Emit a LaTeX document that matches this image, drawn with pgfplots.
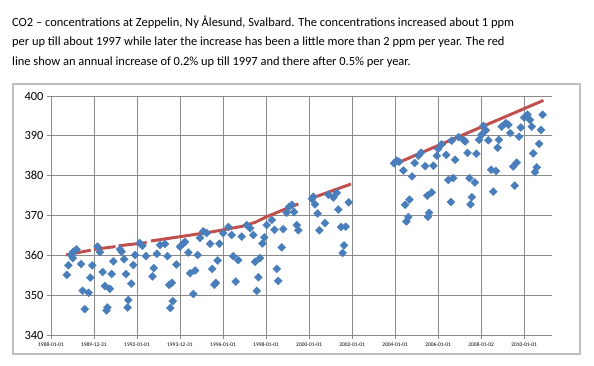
\documentclass[border=0pt]{standalone}
\usepackage{pgfplots}
\pgfplotsset{compat=1.18}
\usepackage{fontspec}
\setmainfont{Carlito}
\definecolor{blueA}{HTML}{4A7EBB}
\definecolor{redA}{HTML}{C0504D}
\definecolor{gridC}{HTML}{8A8A8A}
\definecolor{frameC}{HTML}{BEBEBE}
\begin{document}
\begin{tikzpicture}[x=1bp,y=1bp]
\path[use as bounding box] (0,0) rectangle (594,-365);
\begin{scope}[every node/.style={anchor=base west, inner sep=0pt, font=\fontsize{12.5}{15}\selectfont}]
\node at (12,-26) {CO2 – concentrations at Zeppelin, Ny Ålesund, Svalbard. The concentrations increased about 1 ppm};
\node at (12,-45.5) {per up till about 1997 while later the increase has been a little more than 2 ppm per year. The red};
\node at (12,-65) {line show an annual increase of 0.2\% up till 1997 and there after 0.5\% per year.};
\end{scope}
\draw[frameC, line width=1.5bp] (13,-84) rectangle (580,-354);
\begin{axis}[
  at={(51bp,-335bp)}, anchor=south west,
  scale only axis, width=501bp, height=239bp,
  xmin=1988, xmax=2011.3, ymin=340, ymax=400,
  ytick={340,350,...,400},
  xtick={1988,1989.997,1992,1993.997,1996,1998,2000,2002,2004,2006,2008.003,2010},
  xticklabels={1988-01-01,1989-12-31,1992-01-01,1993-12-31,1996-01-01,1998-01-01,2000-01-01,2002-01-01,2004-01-01,2006-01-01,2008-01-02,2010-01-01},
  grid=major,
  major grid style={draw=gridC, line width=0.7bp},
  axis x line*=bottom, axis y line*=left,
  axis line style={draw=gridC, line width=0.7bp, -},
  tick style={draw=gridC, line width=0.7bp},
  tick align=outside, major tick length=4bp,
  yticklabel style={font=\fontsize{12.5}{13}\selectfont},
  xticklabel style={font=\fontsize{5.5}{6}\selectfont},
  /pgf/number format/assume math mode=true,
  /pgf/number format/1000 sep={},
]
\addplot[only marks, mark=square*, mark size=2.8bp, mark options={rotate=45, fill=blueA, draw=blueA}] coordinates {
(1988.73,355.1)(1988.81,357.5)(1988.93,360.1)(1989.01,359.3)(1989.04,360.9)(1989.19,361.5)
(1989.40,357.8)(1989.47,351.1)(1989.57,346.5)(1989.75,350.6)(1989.83,354.4)(1989.92,357.5)
(1990.16,362.2)(1990.28,360.8)(1990.40,355.8)(1990.51,352.3)(1990.62,346.9)(1990.58,346.2)
(1990.74,351.6)(1990.82,355.3)(1990.90,358.5)(1991.21,361.5)(1991.29,360.9)(1991.40,359.0)
(1991.49,355.3)(1991.60,348.8)(1991.56,346.9)(1991.73,352.9)(1991.83,357.6)(1991.91,360.1)
(1992.12,363.1)(1992.25,362.4)(1992.42,359.8)(1992.72,354.7)(1992.78,356.8)(1992.92,360.4)
(1993.07,362.6)(1993.30,362.9)(1993.42,359.8)(1993.50,352.6)(1993.62,353.1)(1993.66,348.5)
(1993.55,346.8)(1993.83,357.7)
(1994.00,362.2)(1994.15,363.0)(1994.23,363.4)(1994.39,360.7)(1994.47,355.5)(1994.70,356.2)
(1994.62,350.3)(1994.82,360.1)(1994.93,364.4)(1995.08,366.0)(1995.24,365.6)(1995.40,362.9)
(1995.50,356.6)(1995.60,352.6)(1995.66,353.1)(1995.75,358.7)(1995.83,362.9)(1996.01,365.6)
(1996.25,367.1)(1996.40,365.1)(1996.48,359.8)(1996.71,358.8)(1996.59,353.4)(1996.87,364.7)
(1997.10,367.6)(1997.26,366.8)(1997.41,365.1)(1997.49,358.4)(1997.72,359.3)(1997.64,354.5)
(1997.57,351.1)(1997.83,363.0)(1997.92,364.5)(1998.03,367.6)(1998.27,368.9)(1998.39,366.4)
(1998.50,356.6)(1998.57,353.6)(1998.73,362.0)(1998.80,366.6)(1998.96,370.7)(1999.20,372.7)
(1999.43,367.6)(1999.50,366.3)(1999.30,370.9)(1999.07,372.2)
(2000.13,374.2)(2000.20,374.7)(2000.28,372.8)(2000.40,370.5)(2000.48,366.3)(2000.74,368.1)
(2000.90,375.2)(2001.13,374.5)(2001.29,375.7)(2001.36,371.5)(2001.49,367.1)(2001.71,367.2)
(2001.63,362.5)(2001.56,360.6)(2001.85,373.3)
(2003.95,383.1)(2004.08,383.8)(2004.19,383.5)(2004.39,381.3)(2004.79,379.8)(2004.67,374.0)
(2004.47,372.7)(2004.62,369.6)(2004.53,368.5)(2004.91,383.2)(2005.09,385.0)(2005.21,385.8)
(2005.40,382.4)(2005.78,382.5)(2005.50,375.0)(2005.71,375.8)(2005.58,370.7)(2005.53,369.7)
(2005.94,385.0)(2006.01,386.7)(2006.17,387.9)(2006.38,385.2)(2006.48,378.9)(2006.71,379.4)
(2006.60,373.4)(2006.79,384.0)(2006.64,388.8)(2006.95,389.7)(2007.18,389.0)(2007.26,388.6)
(2007.37,385.7)(2007.46,379.4)(2007.71,378.3)(2007.57,374.6)(2007.51,372.8)(2007.78,385.5)
(2007.91,389.0)(2008.03,390.3)(2008.11,392.5)(2008.22,391.4)(2008.34,388.9)(2008.47,381.5)
(2008.69,381.2)(2008.57,376.0)(2008.77,387.0)(2008.83,389.0)(2008.96,392.3)(2009.15,393.2)
(2009.27,392.8)(2009.36,390.7)(2009.49,382.3)(2009.66,383.3)(2009.57,377.5)(2009.77,389.8)
(2009.85,392.1)(2010.00,394.6)(2010.16,395.3)(2010.28,394.0)(2010.36,392.3)(2010.43,385.6)
(2010.59,382.1)(2010.51,380.9)(2010.70,388.0)(2010.79,391.5)(2010.86,395.3)
};
\addplot[redA, line width=3bp, no marks] coordinates {(1988.7,360.1)(1989.85,361.3)};
\addplot[redA, line width=3bp, no marks] coordinates {(1990.0,361.5)(1991.0,362.2)};
\addplot[redA, line width=3bp, no marks] coordinates {(1991.15,362.4)(1992.45,363.2)};
\addplot[redA, line width=3bp, no marks] coordinates {(1992.65,363.6)(1993.9,364.6)(1995.6,366.0)(1996.9,367.3)(1997.5,368.3)(1997.95,369.5)(1998.7,371.2)(1999.5,372.9)};
\addplot[redA, line width=3bp, no marks] coordinates {(2000.1,374.3)(2001.95,377.9)};
\addplot[redA, line width=3bp, no marks] coordinates {(2003.9,382.7)(2010.9,398.9)};
\end{axis}
\end{tikzpicture}
\end{document}
